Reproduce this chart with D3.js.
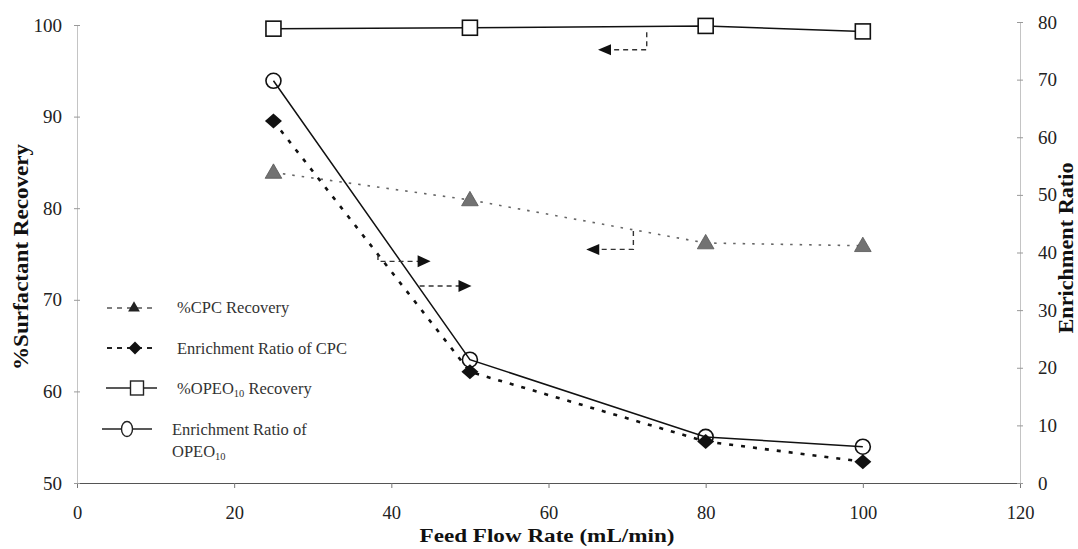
<!DOCTYPE html>
<html>
<head>
<meta charset="utf-8">
<script src="https://cdn.jsdelivr.net/npm/d3@7"></script>
<style>
  html, body { margin: 0; padding: 0; background: #fff; }
  svg { display: block; }
  text { font-family: "Liberation Serif", "Times New Roman", serif; }
</style>
</head>
<body>
<svg id="chart" width="1078" height="549"></svg>
<script>
// Feed flow rate (mL/min)
const flowRates = [25, 50, 80, 100];
// % recovery (left axis)
const cpcRecovery = [83.9, 80.9, 76.2, 75.9];
const opeoRecovery = [99.6, 99.7, 99.9, 99.3];
// Enrichment ratio (right axis)
const cpcEnrichment = [62.8, 19.3, 7.2, 3.7];
const opeoEnrichment = [69.8, 21.4, 8.0, 6.3];

const xTicks = [0, 20, 40, 60, 80, 100, 120];
const leftTicks = [50, 60, 70, 80, 90, 100];
const rightTicks = [0, 10, 20, 30, 40, 50, 60, 70, 80];

// Axis-pointer arrows, in data units (x, left-axis value)
const arrowsLeft = [
  { x0: 72.5, y0: 99.2, y1: 97.3, tip: 66.3 },
  { x0: 70.8, y0: 77.5, y1: 75.5, tip: 64.8 }
];
const arrowsRight = [
  { x0: 38.3, y0: 74.9, y1: 74.2, tip: 45.0 },
  { x0: 43.6, y0: 71.5, y1: 71.5, tip: 50.2 }
];

const svg = d3.select("#chart");

const x = d3.scaleLinear().domain([0, 120]).range([77, 1020]);
const yL = d3.scaleLinear().domain([50, 100]).range([483, 25]);
const yR = d3.scaleLinear().domain([0, 80]).range([483, 22]);

// ---- axes ----
const gx = svg.append("g").attr("transform", `translate(0,${yL(50)})`)
  .call(d3.axisBottom(x).tickValues(xTicks).tickSizeInner(5).tickSizeOuter(0).tickPadding(18));
gx.select(".domain").attr("stroke", "#555").attr("stroke-width", 1.2);
gx.selectAll(".tick line").attr("stroke", "#777");
gx.selectAll(".tick text").attr("font-size", 18.5).attr("fill", "#222");

const gl = svg.append("g").attr("transform", `translate(${x(0)},0)`)
  .call(d3.axisLeft(yL).tickValues(leftTicks).tickSize(3).tickSizeOuter(0).tickPadding(12));
gl.select(".domain").attr("stroke", "#c4c4c4");
gl.selectAll(".tick line").attr("x1", 3).attr("stroke", "#999");
gl.selectAll(".tick text").attr("font-size", 19).attr("fill", "#222");

const gr = svg.append("g").attr("transform", `translate(${x(120)},0)`)
  .call(d3.axisRight(yR).tickValues(rightTicks).tickSize(3).tickSizeOuter(0).tickPadding(15));
gr.select(".domain").attr("stroke", "#c4c4c4");
gr.selectAll(".tick line").attr("x1", -3).attr("stroke", "#999");
gr.selectAll(".tick text").attr("font-size", 19).attr("fill", "#222");

// ---- axis titles ----
svg.append("text")
  .attr("x", 547).attr("y", 542)
  .attr("text-anchor", "middle")
  .attr("font-size", 18.5).attr("font-weight", "bold").attr("fill", "#111")
  .attr("textLength", 255).attr("lengthAdjust", "spacingAndGlyphs")
  .text("Feed Flow Rate (mL/min)");

svg.append("text")
  .attr("transform", "translate(28,257) rotate(-90)")
  .attr("text-anchor", "middle")
  .attr("font-size", 21).attr("font-weight", "bold").attr("fill", "#111")
  .attr("textLength", 226).attr("lengthAdjust", "spacingAndGlyphs")
  .text("%Surfactant Recovery");

svg.append("text")
  .attr("transform", "translate(1073,248) rotate(-90)")
  .attr("text-anchor", "middle")
  .attr("font-size", 21).attr("font-weight", "bold").attr("fill", "#111")
  .attr("textLength", 171).attr("lengthAdjust", "spacingAndGlyphs")
  .text("Enrichment Ratio");

// ---- series lines ----
const pts = vals => flowRates.map((f, i) => ({ x: f, v: vals[i] }));
const lineL = d3.line().x(d => x(d.x)).y(d => yL(d.v));
const lineR = d3.line().x(d => x(d.x)).y(d => yR(d.v));

svg.append("path").datum(pts(cpcRecovery)).attr("d", lineL)
  .attr("fill", "none").attr("stroke", "#666").attr("stroke-width", 1.6)
  .attr("stroke-dasharray", "2.5,7");
svg.append("path").datum(pts(cpcEnrichment)).attr("d", lineR)
  .attr("fill", "none").attr("stroke", "#111").attr("stroke-width", 2.6)
  .attr("stroke-dasharray", "4,8");
svg.append("path").datum(pts(opeoRecovery)).attr("d", lineL)
  .attr("fill", "none").attr("stroke", "#111").attr("stroke-width", 1.5);
svg.append("path").datum(pts(opeoEnrichment)).attr("d", lineR)
  .attr("fill", "none").attr("stroke", "#111").attr("stroke-width", 1.5);

// ---- axis-pointer arrows ----
function arrowHead(g, tx, ty, dir, len, half) {
  g.append("path")
    .attr("d", `M${tx},${ty} L${tx - dir * len},${ty - half} L${tx - dir * len},${ty + half} Z`)
    .attr("fill", "#111");
}
const ga = svg.append("g");
arrowsLeft.forEach(a => {
  ga.append("path")
    .attr("d", `M${x(a.x0)},${yL(a.y0)} L${x(a.x0)},${yL(a.y1)} L${x(a.tip) + 10},${yL(a.y1)}`)
    .attr("fill", "none").attr("stroke", "#333").attr("stroke-width", 1.4)
    .attr("stroke-dasharray", "5,4");
  arrowHead(ga, x(a.tip), yL(a.y1), -1, 13, 5.5);
});
arrowsRight.forEach(a => {
  ga.append("path")
    .attr("d", `M${x(a.x0)},${yL(a.y0)} L${x(a.x0)},${yL(a.y1)} L${x(a.tip) - 10},${yL(a.y1)}`)
    .attr("fill", "none").attr("stroke", "#333").attr("stroke-width", 1.4)
    .attr("stroke-dasharray", "5,4");
  arrowHead(ga, x(a.tip), yL(a.y1), 1, 13, 6);
});

// ---- markers ----
const tri = d3.symbol().type(d3.symbolTriangle).size(120);
svg.append("g").selectAll("path").data(pts(cpcRecovery)).join("path")
  .attr("d", tri)
  .attr("transform", d => `translate(${x(d.x)},${yL(d.v) + 1})`)
  .attr("fill", "#727272").attr("stroke", "#555").attr("stroke-width", 0.8);

svg.append("g").selectAll("rect").data(pts(opeoRecovery)).join("rect")
  .attr("x", d => x(d.x) - 7.5).attr("y", d => yL(d.v) - 7.5)
  .attr("width", 15).attr("height", 15)
  .attr("fill", "#fff").attr("stroke", "#111").attr("stroke-width", 1.6);

svg.append("g").selectAll("circle").data(pts(opeoEnrichment)).join("circle")
  .attr("cx", d => x(d.x)).attr("cy", d => yR(d.v)).attr("r", 7.5)
  .attr("fill", "none").attr("stroke", "#111").attr("stroke-width", 1.6);

const diamond = (w, h) => `M0,${-h} L${w},0 L0,${h} L${-w},0 Z`;
svg.append("g").selectAll("path").data(pts(cpcEnrichment)).join("path")
  .attr("d", diamond(8.5, 7.5))
  .attr("transform", d => `translate(${x(d.x)},${yR(d.v)})`)
  .attr("fill", "#111");

// ---- legend ----
const lg = svg.append("g");
const legendFont = 16.5;

// %CPC Recovery
lg.append("line").attr("x1", 107).attr("x2", 156).attr("y1", 308).attr("y2", 308)
  .attr("stroke", "#555").attr("stroke-width", 1.4).attr("stroke-dasharray", "5,5");
lg.append("path").attr("d", d3.symbol().type(d3.symbolTriangle).size(60))
  .attr("transform", "translate(134,308)").attr("fill", "#222");
lg.append("text").attr("x", 177).attr("y", 313).attr("font-size", legendFont).attr("fill", "#333")
  .text("%CPC Recovery");

// Enrichment Ratio of CPC
lg.append("line").attr("x1", 107).attr("x2", 156).attr("y1", 348).attr("y2", 348)
  .attr("stroke", "#222").attr("stroke-width", 2.2).attr("stroke-dasharray", "5,5");
lg.append("path").attr("d", diamond(6.5, 6.5))
  .attr("transform", "translate(135,348)").attr("fill", "#111");
lg.append("text").attr("x", 177).attr("y", 354).attr("font-size", legendFont).attr("fill", "#333")
  .text("Enrichment Ratio of CPC");

// %OPEO10 Recovery
lg.append("line").attr("x1", 106).attr("x2", 157).attr("y1", 388).attr("y2", 388)
  .attr("stroke", "#222").attr("stroke-width", 1.4);
lg.append("rect").attr("x", 130.5).attr("y", 381).attr("width", 13).attr("height", 14)
  .attr("fill", "#fff").attr("stroke", "#222").attr("stroke-width", 1.4);
const t3 = lg.append("text").attr("x", 177).attr("y", 394).attr("font-size", legendFont).attr("fill", "#333");
t3.append("tspan").text("%OPEO");
t3.append("tspan").attr("font-size", 10.5).attr("dy", 3).text("10");
t3.append("tspan").attr("dy", -3).text(" Recovery");

// Enrichment Ratio of OPEO10
lg.append("line").attr("x1", 102).attr("x2", 152).attr("y1", 429).attr("y2", 429)
  .attr("stroke", "#222").attr("stroke-width", 1.4);
lg.append("ellipse").attr("cx", 127).attr("cy", 429).attr("rx", 5.5).attr("ry", 7.5)
  .attr("fill", "#fff").attr("stroke", "#222").attr("stroke-width", 1.4);
lg.append("text").attr("x", 172).attr("y", 435).attr("font-size", legendFont).attr("fill", "#333")
  .text("Enrichment Ratio of");
const t4 = lg.append("text").attr("x", 172).attr("y", 457).attr("font-size", legendFont).attr("fill", "#333");
t4.append("tspan").text("OPEO");
t4.append("tspan").attr("font-size", 10.5).attr("dy", 3).text("10");
</script>
</body>
</html>
